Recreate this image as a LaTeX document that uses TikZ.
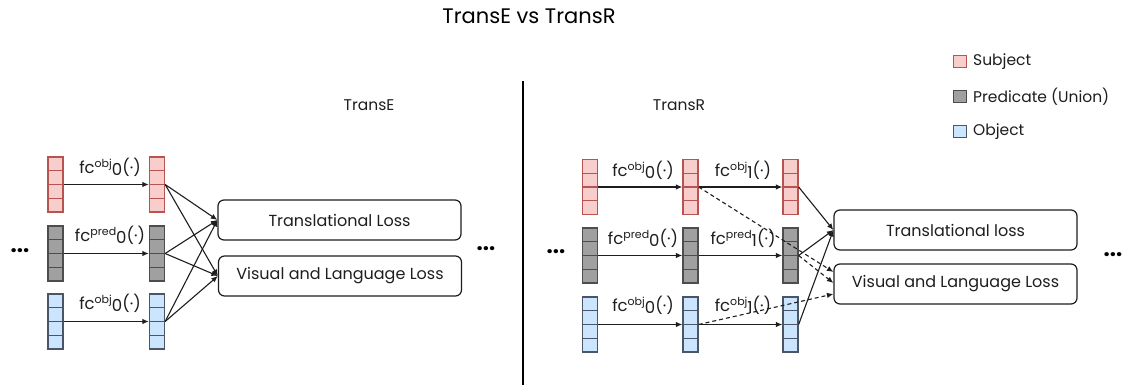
\documentclass[tikz,border=0pt]{standalone}
\usepackage{fontspec}
\setmainfont{Poppins}
\usetikzlibrary{arrows.meta,calc}
\definecolor{subjfill}{HTML}{F8CECC}
\definecolor{subjdraw}{HTML}{B85450}
\definecolor{predfill}{HTML}{A0A0A0}
\definecolor{preddraw}{HTML}{4D4D4D}
\definecolor{objfill}{HTML}{CCE5FF}
\definecolor{objdraw}{HTML}{4A5566}
\definecolor{ink}{HTML}{1E1E1E}
\newcommand\fclab[2]{fc\raisebox{6pt}{\fontsize{11}{12}\selectfont #1}\raisebox{-2.5pt}{#2}(·)}
\tikzset{
  cellbar/.style n args={2}{draw=#2, fill=#1, line width=1.3pt, minimum width=15pt,
    minimum height=55pt, inner sep=0pt,
    path picture={\foreach \f in {0.25,0.5,0.75}{\draw[#2, line width=1.1pt]
      ($(path picture bounding box.north west)!\f!(path picture bounding box.south west)$) --
      ($(path picture bounding box.north east)!\f!(path picture bounding box.south east)$);}}},
  subjbar/.style={cellbar={subjfill}{subjdraw}},
  predbar/.style={cellbar={predfill}{preddraw}},
  objbar/.style={cellbar={objfill}{objdraw}},
  lossbox/.style={draw=ink, line width=1.2pt, rounded corners=6pt, minimum width=243pt,
    minimum height=40pt, inner sep=0pt, font=\fontsize{16}{19}\selectfont, text=ink},
  fclabel/.style={font=\fontsize{16.5}{19}\selectfont, text=ink, inner sep=0pt},
  arr/.style={draw=ink, line width=1.1pt, -{Latex[length=6.5pt,width=5.5pt]}},
  darr/.style={arr, dash pattern=on 4pt off 3pt},
  dotslabel/.style={font=\fontsize{22}{24}\selectfont\bfseries, text=black, inner sep=0pt},
  paneltitle/.style={font=\fontsize{15.5}{18}\selectfont, text=ink, inner sep=0pt},
  legsq/.style n args={2}{draw=#2, fill=#1, line width=1.2pt, minimum width=13pt, minimum height=12pt, inner sep=0pt},
  legtext/.style={font=\fontsize{15.5}{18}\selectfont, text=ink, anchor=west, inner sep=0pt}
}
\begin{document}
\begin{tikzpicture}[x=1pt,y=-1pt]
\useasboundingbox[fill=white] (0,0) rectangle (1127,385);

% title and panel titles
\node[font=\fontsize{21}{24}\selectfont, text=black, inner sep=0pt] (title) at (529,16) {TransE vs TransR};
\node[paneltitle] (tE) at (369,105) {TransE};
\node[paneltitle] (tR) at (679,105) {TransR};
\draw[line width=2.5pt, black] (523,81) -- (523,385);

% legend
\node[legsq={subjfill}{subjdraw}] (lg1) at (960,61.5) {};
\node[legsq={predfill}{preddraw}] (lg2) at (960,96.5) {};
\node[legsq={objfill}{objdraw}] (lg3) at (960,131.5) {};
\node[legtext] (lt1) at (973,61.5) {Subject};
\node[legtext] (lt2) at (973,96.5) {Predicate (Union)};
\node[legtext] (lt3) at (973,131.5) {Object};

% ---------- TransE ----------
\node[subjbar] (e1s) at (55.5,184.5) {};
\node[predbar] (e1p) at (55.5,253.5) {};
\node[objbar]  (e1o) at (55.5,321.5) {};
\node[subjbar] (e2s) at (157,184.5) {};
\node[predbar] (e2p) at (157,253.5) {};
\node[objbar]  (e2o) at (157,321.5) {};
\node[lossbox] (etl) at (339.5,220) {Translational Loss};
\node[lossbox] (evl) at (340,276) {Visual and Language Loss};
\node[fclabel] (el1) at (110,167) {\fclab{obj}{0}};
\node[fclabel] (el2) at (110,235) {\fclab{pred}{0}};
\node[fclabel] (el3) at (110,303) {\fclab{obj}{0}};
\node[dotslabel] (ed1) at (20,251) {...};
\node[dotslabel] (ed2) at (486,249) {...};

\draw[arr] (e1s.east) -- (e2s.west);
\draw[arr] (e1p.east) -- (e2p.west);
\draw[arr] (e1o.east) -- (e2o.west);
\foreach \n in {e2s,e2p,e2o}{
  \draw[arr] (\n.east) -- (etl.west);
  \draw[arr] (\n.east) -- (evl.west);
}

% ---------- TransR ----------
\node[subjbar] (r1s) at (590,187) {};
\node[predbar] (r1p) at (590,255.5) {};
\node[objbar]  (r1o) at (590,324.5) {};
\node[subjbar] (r2s) at (690.5,187) {};
\node[predbar] (r2p) at (690.5,255.5) {};
\node[objbar]  (r2o) at (690.5,324.5) {};
\node[subjbar] (r3s) at (790.5,187) {};
\node[predbar] (r3p) at (790.5,255.5) {};
\node[objbar]  (r3o) at (790.5,324.5) {};
\node[lossbox] (rtl) at (955.5,230) {Translational loss};
\node[lossbox] (rvl) at (955.5,284) {Visual and Language Loss};
\node[fclabel] (rl1) at (643,170) {\fclab{obj}{0}};
\node[fclabel] (rl2) at (743,170) {\fclab{obj}{1}};
\node[fclabel] (rl3) at (643,238) {\fclab{pred}{0}};
\node[fclabel] (rl4) at (743,238) {\fclab{pred}{1}};
\node[fclabel] (rl5) at (643,305) {\fclab{obj}{0}};
\node[fclabel] (rl6) at (743,305) {\fclab{obj}{1}};
\node[dotslabel] (rd1) at (556,252) {...};
\node[dotslabel] (rd2) at (1113,255) {...};

\draw[arr] (r1s.east) -- (r2s.west);
\draw[arr] (r1p.east) -- (r2p.west);
\draw[arr] (r1o.east) -- (r2o.west);
\draw[arr] (r2s.east) -- (r3s.west);
\draw[arr] (r2p.east) -- (r3p.west);
\draw[arr] (r2o.east) -- (r3o.west);
\foreach \n in {r3s,r3p,r3o}{
  \draw[arr] (\n.east) -- (rtl.west);
}
\draw[darr] (r2s.east) -- ([yshift=12pt]rvl.west);
\draw[darr] (r3p.east) -- ([yshift=1pt]rvl.west);
\draw[darr] (r2o.east) -- ([yshift=-10pt]rvl.west);
\end{tikzpicture}
\end{document}
